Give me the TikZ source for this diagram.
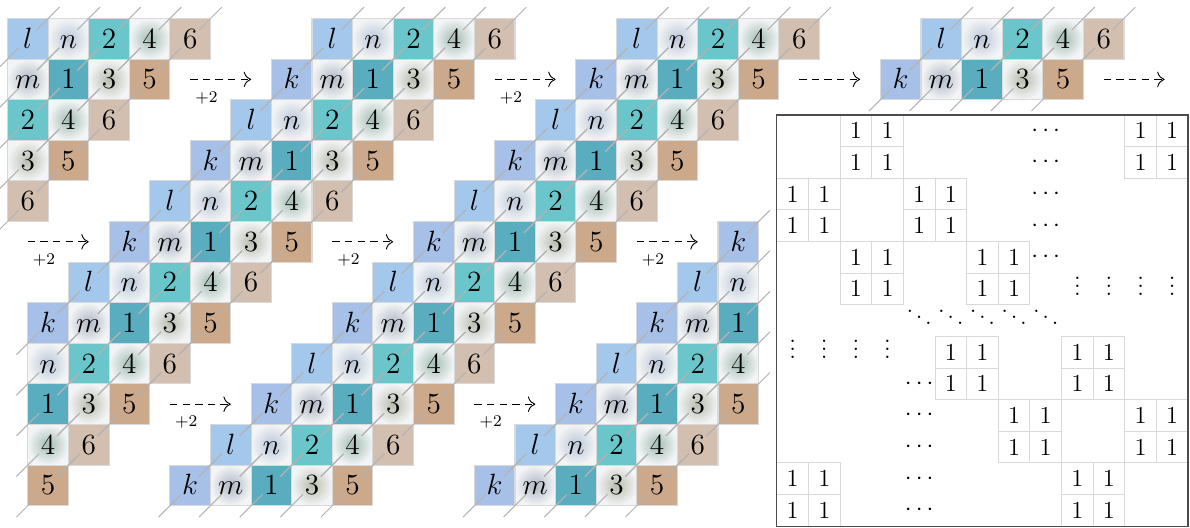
\documentclass[tikz,border=0pt]{standalone}
\usetikzlibrary{arrows.meta}
\pgfdeclarelayer{bg}
\pgfdeclarelayer{mid}
\pgfsetlayers{bg,mid,main}
\definecolor{cl}{HTML}{A4C8EC}
\definecolor{ck}{HTML}{A7C0E8}
\definecolor{ctwo}{HTML}{6AC6CA}
\definecolor{cone}{HTML}{5AADBF}
\definecolor{csix}{HTML}{D3BFAF}
\definecolor{cfive}{HTML}{CBA98A}
\definecolor{cpale}{HTML}{F2F4F5}
\definecolor{cn}{HTML}{BAC7D9}
\definecolor{cm}{HTML}{AFB8C5}
\definecolor{cfour}{HTML}{A3BCB3}
\definecolor{cthree}{HTML}{B8BDAE}
\definecolor{cgrid}{HTML}{D9D9D9}
\definecolor{cdiag}{HTML}{B3B3B3}
\tikzset{
  cellbox/.style={draw=cgrid, line width=0.5pt, minimum size=0.7cm, inner sep=0pt, outer sep=0pt},
  lbl/.style={inner sep=0pt, text height=9.3pt, text depth=0pt, font=\fontsize{14.4}{17}\selectfont},
  diag/.style={draw=cdiag, line width=0.5pt},
  dasharr/.style={-{To[scale=1.4]}, dash pattern=on 3.6pt off 2.6pt, line width=0.45pt},
  plus/.style={inner sep=0pt, font=\fontsize{8.5}{10}\selectfont},
  mone/.style={draw=cgrid, line width=0.5pt, minimum size=0.5453cm, inner sep=0pt, outer sep=0pt, text height=7.8pt, text depth=0pt, font=\fontsize{12}{14}\selectfont},
  mdot/.style={inner sep=0pt, font=\fontsize{12}{14}\selectfont},
  mvd/.style={mdot, yshift=4.3pt},
  mdd/.style={mdot, yshift=4.5pt},
  mframe/.style={draw=black!70, line width=0.6pt, minimum width=7.089cm, minimum height=7.089cm, inner sep=0pt, outer sep=0pt, anchor=north west}
}
\begin{document}
\begin{tikzpicture}[x=0.7cm,y=0.7cm]
\useasboundingbox (-0.185,0.456) rectangle (29.126,-12.525);
% staircases
\foreach \sx [count=\si] in {0,7.5,15,22.5}{
 \foreach \rr in {0,...,11}{
  \pgfmathtruncatemacro\isodd{mod(\rr,2)}
  \foreach \jj/\labA/\labB/\colA/\colB/\typ in {0/l/k/cl/ck/0,1/n/m/cn/cm/1,2/2/1/ctwo/cone/0,3/4/3/cfour/cthree/1,4/6/5/csix/cfive/0}{
   \pgfmathsetmacro\uu{\sx-\rr+\jj}
   \pgfmathtruncatemacro\keep{(\uu>=0) && ((\rr<=1) || (\uu<=17.5))}
   \ifnum\keep=1
     \ifnum\isodd=0 \let\lab\labA \let\cc\colA \else \let\lab\labB \let\cc\colB \fi
     \begin{pgfonlayer}{bg}
      \ifnum\typ=0
        \node[cellbox, fill=\cc] (c\si-\rr-\jj) at (\uu+0.5,-\rr-0.5) {};
      \else
        \node[cellbox, inner color=\cc, outer color=cpale] (c\si-\rr-\jj) at (\uu+0.5,-\rr-0.5) {};
      \fi
     \end{pgfonlayer}
     \begin{pgfonlayer}{mid}
      \draw[diag] ([shift={(-0.28,-0.28)}]c\si-\rr-\jj.south west) -- ([shift={(0.28,0.28)}]c\si-\rr-\jj.south west);
      \draw[diag] ([shift={(-0.28,-0.28)}]c\si-\rr-\jj.north east) -- ([shift={(0.28,0.28)}]c\si-\rr-\jj.north east);
     \end{pgfonlayer}
     \node[lbl] (t\si-\rr-\jj) at (c\si-\rr-\jj) {$\lab$};
   \fi
  }
 }
}
% arrows
\foreach \n/\ax/\ar/\pl in {1/4.5/1/1,2/12/1/1,3/19.5/1/0,4/27/1/0,5/0.5/5/1,6/8/5/1,7/15.5/5/1,8/4/9/1,9/11.5/9/1}{
  \coordinate (as\n) at (\ax,-\ar-0.5);
  \coordinate (ae\n) at (\ax+1.5,-\ar-0.5);
  \draw[dasharr] (as\n) -- (ae\n);
  \ifnum\pl=1 \node[plus] (pl\n) at (\ax+0.4,-\ar-0.95) {$+2$}; \fi
}
% matrix
\def\mx{18.95}\def\my{2.377}\def\mc{0.779}
\foreach \bi/\bj in {0/2,0/11,2/0,2/4,4/2,4/6,7/5,7/9,9/7,9/11,11/0,11/9}{
  \foreach \di in {0,1}{
    \foreach \dj in {0,1}{
      \pgfmathtruncatemacro\mi{\bi+\di}
      \pgfmathtruncatemacro\mj{\bj+\dj}
      \node[mone] (m\mi-\mj) at ({\mx+(\mj+0.5)*\mc},{-\my-(\mi+0.5)*\mc}) {$1$};
    }
  }
}
\foreach \mi/\mj in {0/8,1/8,2/8,3/8,4/8,8/4,9/4,10/4,11/4,12/4}{
  \node[mdot] (h\mi-\mj) at ({\mx+(\mj+0.5)*\mc},{-\my-(\mi+0.5)*\mc}) {$\cdots$};
}
\foreach \mi/\mj in {5/9,5/10,5/11,5/12,7/0,7/1,7/2,7/3}{
  \node[mvd] (v\mi-\mj) at ({\mx+(\mj+0.5)*\mc},{-\my-(\mi+0.5)*\mc}) {$\vdots$};
}
\foreach \mi/\mj in {6/4,6/5,6/6,6/7,6/8}{
  \node[mdd] (g\mi-\mj) at ({\mx+(\mj+0.5)*\mc},{-\my-(\mi+0.5)*\mc}) {$\ddots$};
}
\node[mframe] (mbox) at (\mx,-\my) {};
\end{tikzpicture}
\end{document}
